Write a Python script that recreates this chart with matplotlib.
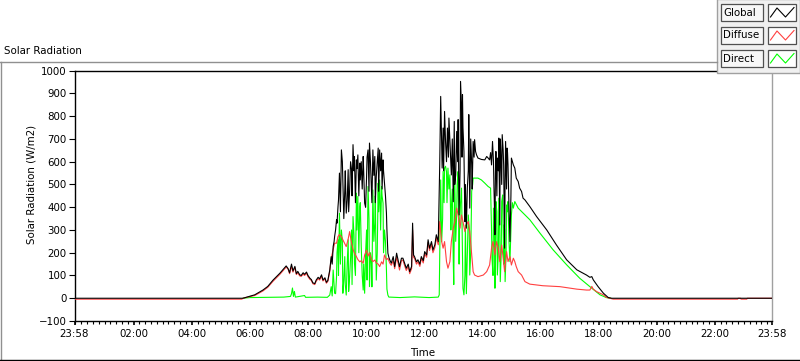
import matplotlib
matplotlib.use("Agg")
import matplotlib.pyplot as plt
from matplotlib.patches import Rectangle
import numpy as np

# time in minutes after midnight, values in W/m2
global_t = [-2, 345, 349, 370, 387, 397, 408, 415, 422, 428, 435, 439, 442, 446, 449, 453, 456,
            459, 463, 466, 470, 473, 477, 480, 484, 487, 490, 494, 497, 501, 504, 508, 511, 515,
            518, 521, 525, 528, 532, 535, 539, 542, 545, 549, 552, 556, 559, 563, 566, 570, 573,
            576, 580, 583, 587, 590, 594, 597, 601, 604, 607, 611, 614, 618, 621, 625, 628, 632,
            635, 638, 642, 645, 649, 652, 656, 659, 663, 666, 669, 673, 676, 680, 683, 687, 690,
            694, 696, 698, 700, 704, 707, 711, 714, 718, 721, 725, 728, 731, 735, 738, 742, 745,
            749, 752, 754, 757, 759, 762, 764, 768, 771, 773, 776, 780, 782, 785, 787, 790, 792,
            795, 797, 799, 802, 804, 807, 809, 812, 814, 818, 821, 824, 826, 828, 831, 838, 845,
            849, 852, 855, 859, 861, 864, 866, 868, 871, 874, 876, 878, 881, 884, 886, 888, 891,
            893, 897, 900, 904, 907, 910, 914, 917, 921, 924, 928, 938, 952, 973, 993, 1014, 1035,
            1055, 1062, 1066, 1069, 1079, 1090, 1100, 1107, 1438]
global_v = [0, 0, 2, 15, 36, 52, 80, 95, 110, 125, 142, 130, 112, 150, 120, 140, 108,
            118, 103, 100, 112, 105, 115, 100, 88, 82, 68, 64, 80, 92, 85, 103, 80, 90,
            70, 78, 124, 183, 227, 271, 345, 403, 550, 652, 520, 476, 374, 565, 476, 565, 675,
            623, 608, 630, 594, 600, 623, 418, 535, 652, 682, 476, 652, 623, 535, 660, 652, 638,
            608, 506, 374, 198, 168, 154, 183, 139, 198, 168, 139, 176, 176, 150, 132, 150, 117,
            140, 330, 190, 183, 160, 169, 150, 183, 165, 205, 190, 257, 220, 249, 212, 235, 279,
            249, 586, 887, 572, 748, 821, 689, 748, 792, 689, 542, 424, 777, 542, 733, 785, 366,
            953, 836, 895, 645, 337, 308, 484, 807, 396, 586, 689, 697, 645, 630, 616, 610, 608,
            623, 616, 608, 586, 689, 484, 279, 645, 616, 704, 322, 645, 719, 586, 220, 689, 660,
            586, 249, 616, 586, 572, 528, 513, 484, 469, 440, 432, 403, 359, 300, 234, 169, 125,
            102, 92, 95, 81, 51, 22, 3, 0, 0]
# lower edge of the dense, rapidly fluctuating stretches
global_fine_t = [530, 534, 537, 540, 543, 547, 551, 554, 557, 561, 564, 568, 571, 575, 578, 581,
                 585, 588, 592, 595, 599, 602, 606, 609, 612, 616, 619, 623, 626, 630, 633, 636,
                 640, 643, 647, 760, 766, 770, 778, 783, 789, 794, 798, 800, 805, 811, 816, 819,
                 823, 857, 863, 865, 867, 870, 873, 875, 877, 880, 883, 885, 887, 890, 892, 895, 899]
global_fine_v = [150, 250, 300, 330, 430, 380, 600, 350, 560, 430, 380, 600, 450, 560, 420, 570,
                 450, 520, 480, 560, 400, 620, 470, 600, 420, 540, 420, 600, 470, 560, 480, 560,
                 450, 300, 180, 560, 600, 620, 700, 500, 600, 560, 620, 750, 500, 560, 700, 480,
                 620, 640, 600, 400, 550, 450, 560, 500, 700, 500, 650, 400, 520, 480, 640, 400, 450]

diffuse_t = [-2, 343, 349, 370, 387, 397, 408, 415, 422, 428, 435, 439, 442, 446, 449, 453, 456,
             459, 463, 466, 470, 473, 477, 480, 484, 487, 490, 494, 497, 501, 504, 508, 511, 515,
             518, 521, 525, 528, 535, 539, 542, 545, 549, 552, 556, 559, 563, 566, 570, 573, 576,
             580, 583, 587, 590, 594, 597, 601, 604, 607, 611, 614, 618, 621, 625, 628, 632, 635,
             638, 642, 645, 649, 652, 656, 659, 663, 666, 669, 673, 676, 680, 683, 687, 690, 694,
             696, 698, 700, 704, 707, 711, 714, 718, 721, 725, 728, 731, 735, 738, 742, 745, 749,
             752, 756, 759, 762, 766, 769, 773, 776, 780, 783, 787, 790, 794, 797, 800, 804, 807,
             811, 814, 818, 821, 824, 831, 842, 849, 855, 859, 862, 866, 869, 873, 876, 880, 883,
             886, 890, 893, 897, 900, 904, 907, 910, 914, 921, 928, 938, 965, 1000, 1035, 1055,
             1062, 1066, 1069, 1076, 1090, 1096, 1103, 1110, 1367, 1368, 1373, 1374, 1386, 1387, 1438]
diffuse_v = [-4, -4, 2, 12, 32, 48, 75, 90, 105, 120, 137, 128, 108, 140, 115, 135, 104,
             112, 98, 96, 106, 100, 110, 95, 83, 78, 64, 60, 75, 86, 80, 96, 76, 85,
             66, 74, 118, 176, 242, 242, 271, 280, 271, 257, 240, 227, 260, 293, 242, 215, 198,
             183, 170, 160, 165, 154, 190, 212, 185, 200, 170, 161, 168, 155, 150, 139, 160, 150,
             190, 170, 175, 154, 145, 165, 130, 180, 155, 124, 165, 168, 140, 122, 140, 108, 130,
             300, 180, 175, 150, 160, 140, 175, 155, 195, 180, 245, 210, 238, 200, 222, 265, 235,
             337, 249, 220, 249, 161, 132, 161, 249, 308, 337, 396, 366, 308, 366, 337, 293, 322,
             337, 293, 190, 117, 102, 95, 102, 117, 146, 220, 249, 190, 249, 220, 161, 234, 176,
             117, 205, 161, 183, 146, 176, 161, 139, 117, 102, 73, 62, 55, 51, 40, 36,
             36, 52, 40, 29, 15, 4, 0, -4, -4, 0, 0, -4, -4, 0, 0]

direct_t = [346, 360, 400, 430, 444, 446, 448, 450, 452, 454, 473, 475, 500, 520, 525, 528, 532,
            535, 539, 542, 545, 549, 552, 556, 559, 563, 566, 570, 573, 576, 580, 583, 587, 590,
            594, 597, 601, 604, 607, 611, 614, 618, 621, 625, 628, 632, 635, 638, 642, 645, 649,
            670, 700, 730, 749, 751, 753, 756, 759, 762, 766, 769, 773, 776, 780, 783, 787, 790,
            793, 797, 800, 802, 805, 808, 811, 814, 818, 821, 831, 838, 845, 852, 857, 860, 863,
            866, 868, 871, 874, 877, 880, 882, 885, 887, 890, 893, 897, 900, 904, 907, 914, 921,
            928, 938, 959, 986, 1014, 1041, 1062, 1083, 1096, 1105]
direct_v = [0, 3, 4, 5, 8, 20, 45, 8, 30, 5, 12, 4, 5, 4, 14, 51, 124,
            22, 95, 257, 374, 300, 22, 183, 14, 257, 95, 300, 359, 154, 462, 447, 403, 227,
            36, 22, 300, 491, 51, 154, 476, 330, 80, 506, 520, 491, 418, 300, 124, 14, 5,
            3, 6, 3, 5, 15, 366, 249, 557, 572, 557, 572, 542, 396, 161, 542, 366, 557,
            322, 484, 44, 15, 322, 102, 366, 102, 469, 528, 528, 520, 506, 491, 484, 176, 396,
            44, 425, 102, 440, 73, 425, 454, 322, 73, 410, 425, 161, 366, 396, 425, 396, 381,
            366, 345, 286, 213, 147, 88, 51, 15, 3, 0]
direct_fine_t = [530, 534, 537, 540, 543, 547, 551, 554, 557, 561, 564, 568, 571, 575, 578, 581,
                 585, 588, 592, 595, 599, 602, 606, 609, 612, 616, 619, 623, 626, 630, 633, 636,
                 640, 643, 647, 754, 758, 761, 764, 767, 771, 775, 778, 781, 785, 788, 792, 795,
                 799, 804, 807, 810, 813, 816, 820, 859, 862, 865, 867, 870, 873, 876, 879, 884,
                 886, 889, 892, 895, 899, 902]
direct_fine_v = [10, 60, 20, 200, 100, 150, 250, 80, 60, 150, 30, 180, 60, 280, 100, 300,
                 200, 420, 100, 150, 200, 80, 350, 200, 50, 250, 450, 200, 380, 300, 450, 200,
                 250, 40, 5, 520, 350, 420, 580, 420, 480, 300, 480, 60, 250, 500, 150, 420,
                 200, 100, 20, 250, 300, 200, 500, 300, 100, 300, 150, 380, 200, 300, 200, 150,
                 300, 200, 380, 250, 300, 420]


def merged(t, v, ft=(), fv=()):
    t = np.array(list(t) + list(ft), dtype=float)
    v = np.array(list(v) + list(fv), dtype=float)
    order = np.argsort(t, kind="stable")
    return t[order], v[order]


series = [("Direct", merged(direct_t, direct_v, direct_fine_t, direct_fine_v), "#00ff00"),
          ("Diffuse", merged(diffuse_t, diffuse_v), "#ff4040"),
          ("Global", merged(global_t, global_v, global_fine_t, global_fine_v), "#000000")]
legend_names = ["Global", "Diffuse", "Direct"]
legend_colors = ["#000000", "#ff4040", "#00ff00"]

tick_pos = [-2, 120, 240, 360, 480, 600, 720, 840, 960, 1080, 1200, 1320, 1438]
tick_lbl = ["23:58", "02:00", "04:00", "06:00", "08:00", "10:00", "12:00",
            "14:00", "16:00", "18:00", "20:00", "22:00", "23:58"]

W, H = 800, 361
fs = 7.4
plt.rcParams["font.family"] = "DejaVu Sans"

fig = plt.figure(figsize=(W / 100, H / 100), dpi=100)
ax = fig.add_axes([74.5 / W, (H - 321) / H, 697.5 / W, 250.3 / H])

for z, (name, (t, v), c) in enumerate(series):
    ax.plot(t, v, color=c, lw=0.8, zorder=2 + z)

ax.set_xlim(-2, 1438)
ax.set_ylim(-100, 1000)
ax.set_yticks(np.arange(-100, 1001, 100))
ax.set_xticks(tick_pos)
ax.set_xticklabels(tick_lbl)
ax.set_xticks(np.arange(0, 1440, 12), minor=True)
ax.tick_params(axis="y", direction="out", length=4, width=0.8, pad=1.5, labelsize=fs)
ax.tick_params(axis="x", which="major", direction="out", length=3, width=1.2, pad=3, labelsize=fs)
ax.tick_params(axis="x", which="minor", direction="out", length=2, width=0.8)
for s in ["left", "top", "bottom"]:
    ax.spines[s].set_color("black")
    ax.spines[s].set_linewidth(1)
ax.spines["right"].set_color("#a0a0a0")
ax.spines["right"].set_linewidth(1)

fig.text(31 / W, 1 - 184 / H, "Solar Radiation (W/m2)", rotation=90,
         ha="center", va="center", fontsize=fs)
fig.text(423 / W, 1 - 353 / H, "Time", ha="center", va="center", fontsize=fs)
fig.text(4 / W, 1 - 51 / H, "Solar Radiation", ha="left", va="center", fontsize=fs)

# frame and legend overlay in pixel coordinates
ov = fig.add_axes([0, 0, 1, 1], zorder=5)
ov.set_xlim(0, W)
ov.set_ylim(H, 0)
ov.axis("off")
ov.patch.set_alpha(0)
ov.plot([0, 717], [62, 62], color="#909090", lw=1)
ov.plot([0.5, 0.5], [62, 360], color="#909090", lw=1)
ov.plot([0, W], [359.5, 359.5], color="black", lw=1)

ov.add_patch(Rectangle((717, -1), 83, 74, facecolor="#f0f0f0", edgecolor="#a0a0a0", lw=1))
for i, (name, c) in enumerate(zip(legend_names, legend_colors)):
    y0 = 4 + i * 23
    ov.add_patch(Rectangle((721, y0), 42, 17, facecolor="#f7f7f7", edgecolor="#505050", lw=0.9))
    ov.add_patch(Rectangle((768, y0), 28, 17, facecolor="white", edgecolor="#505050", lw=0.9))
    ov.text(723.5, y0 + 8.5, name, ha="left", va="center", fontsize=fs)
    ov.plot([770.5, 777, 785.5, 794], [y0 + 13, y0 + 4, y0 + 13, y0 + 3.5], color=c, lw=0.8)

fig.savefig("out.png", dpi=100, facecolor="white")
